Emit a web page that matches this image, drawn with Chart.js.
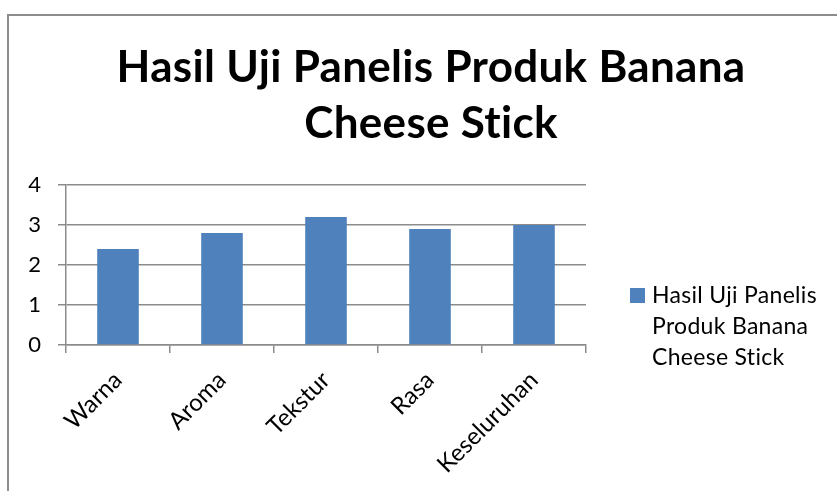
<!DOCTYPE html>
<html>
<head>
<meta charset="utf-8">
<script src="https://cdn.jsdelivr.net/npm/chart.js@4/dist/chart.umd.min.js"></script>
<style>
  html, body { margin: 0; padding: 0; background: #fff; }
  #wrap { position: relative; width: 837px; height: 491px; overflow: hidden; }
  #frame { position: absolute; left: 7px; top: 14px; width: 900px; height: 600px; border-left: 2px solid #8c8c8c; border-top: 2px solid #8c8c8c; }
  canvas { position: absolute; left: 0; top: 0; }
</style>
</head>
<body>
<div id="wrap">
  <div id="frame"></div>
  <canvas id="chartPanelis" width="837" height="491"></canvas>
</div>
<script>
const kategori = ["Warna", "Aroma", "Tekstur", "Rasa", "Keseluruhan"];
const nilai = [2.4, 2.8, 3.2, 2.9, 3.0];
const judul = ["Hasil Uji Panelis Produk Banana", "Cheese Stick"];
const labelLegenda = ["Hasil Uji Panelis", "Produk Banana", "Cheese Stick"];
const ticksY = [0, 1, 2, 3, 4];

const FONT = "Lato";
const BIRU = "#4F81BD";
const ABU = "#8c8c8c";

// judul + legenda digambar manual (judul terpusat di seluruh kanvas, legenda tiga baris)
const judulDanLegenda = {
  id: "judulDanLegenda",
  afterDraw(chart) {
    const ctx = chart.ctx;
    ctx.save();
    if ("letterSpacing" in ctx) ctx.letterSpacing = "0.3px"; // matikan ligatur "ti"
    ctx.fillStyle = "#000";
    ctx.textAlign = "center";
    ctx.textBaseline = "middle";
    ctx.font = `bold 44px ${FONT}`;
    judul.forEach((t, i) => ctx.fillText(t, 431, 68 + i * 56));

    const x0 = chart.chartArea.right + 44;
    const y0 = 288;
    ctx.fillStyle = BIRU;
    ctx.fillRect(x0, y0, 15, 15);
    ctx.fillStyle = "#000";
    ctx.textAlign = "left";
    ctx.font = `23px ${FONT}`;
    labelLegenda.forEach((t, i) => ctx.fillText(t, x0 + 22, y0 + 8 + i * 31));
    ctx.restore();
  },
};

const ctx = document.getElementById("chartPanelis").getContext("2d");
new Chart(ctx, {
  type: "bar",
  data: {
    labels: kategori,
    datasets: [{
      label: labelLegenda.join(" "),
      data: nilai,
      backgroundColor: BIRU,
      borderWidth: 0,
      barPercentage: 0.4,
      categoryPercentage: 1.0,
    }],
  },
  options: {
    responsive: false,
    animation: false,
    layout: { padding: { left: 0, right: 251, top: 185, bottom: 0 } },
    scales: {
      x: {
        grid: { drawOnChartArea: false, drawTicks: true, tickLength: 8, color: ABU, lineWidth: 1.5 },
        border: { color: ABU, width: 1.5 },
        ticks: { color: "#000", font: { family: FONT, size: 24 }, minRotation: 45, maxRotation: 45, padding: 13 },
        afterFit: (s) => { s.height = 146; },
      },
      y: {
        min: 0,
        max: 4,
        afterBuildTicks: (s) => { s.ticks = ticksY.map((v) => ({ value: v })); },
        grid: { color: ABU, lineWidth: 1.5, tickLength: 8 },
        border: { color: ABU, width: 1.5 },
        ticks: { color: "#000", font: { family: FONT, size: 22 }, padding: 17 },
        afterFit: (s) => { s.width = 66; },
      },
    },
    plugins: {
      legend: { display: false },
      tooltip: { enabled: false },
      title: { display: false },
    },
  },
  plugins: [judulDanLegenda],
});
</script>
</body>
</html>
